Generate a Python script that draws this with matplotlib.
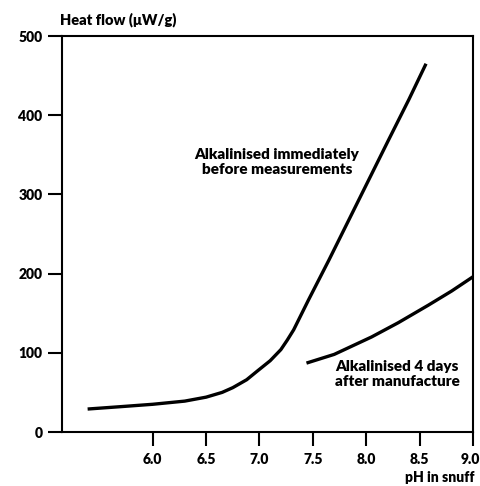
import matplotlib.pyplot as plt
from matplotlib.transforms import ScaledTranslation

plt.rcParams['font.family'] = ['Lato', 'DejaVu Sans']
plt.rcParams['font.weight'] = 'heavy'

ph_fresh = [5.39, 5.7, 6.0, 6.3, 6.5, 6.65, 6.75, 6.88, 6.98, 7.1, 7.2, 7.26, 7.32,
            7.46, 7.65, 7.93, 8.21, 8.4, 8.56]
heat_fresh = [29, 32, 35, 39, 44, 50, 56, 66, 77, 90, 104, 116, 129,
              167, 217, 293, 369, 420, 465]

# alkalinised 4 days after manufacture
ph_aged = [7.44, 7.7, 8.05, 8.3, 8.58, 8.8, 9.0]
heat_aged = [87, 98, 120, 138, 160, 178, 196]

x_ticks = [6.0, 6.5, 7.0, 7.5, 8.0, 8.5, 9.0]
y_ticks = [0, 100, 200, 300, 400, 500]

W, H = 481, 486
fig = plt.figure(figsize=(W / 100, H / 100), dpi=100)
ax = fig.add_axes([62 / W, 1 - 432 / H, (473 - 62) / W, (432 - 36) / H])

for xs, ys in [(ph_fresh, heat_fresh), (ph_aged, heat_aged)]:
    ax.plot(xs, ys, color='black', lw=2.4, solid_capstyle='butt',
            solid_joinstyle='round')

ax.set_xlim(5.15, 9.0)
ax.set_ylim(0, 500)
ax.set_xticks(x_ticks)
ax.set_xticklabels(['%.1f' % v for v in x_ticks])
ax.set_yticks(y_ticks)

for s in ax.spines.values():
    s.set_linewidth(1.5)
ax.tick_params(axis='both', direction='out', length=10, width=1.5, labelsize=10)
ax.tick_params(axis='x', pad=5)
ax.tick_params(axis='y', pad=4)

# last x label sits a little left so it stays inside the figure
last = ax.get_xticklabels()[-1]
last.set_transform(last.get_transform() + ScaledTranslation(-3 / 100, 0, fig.dpi_scale_trans))

fig.text(60 / W, 1 - 20 / H, 'Heat flow (\u03bcW/g)', fontsize=10.5, ha='left', va='center')
fig.text(475 / W, 1 - 477 / H, 'pH in snuff', fontsize=10, ha='right', va='center')
fig.text(277 / W, 1 - 162 / H, 'Alkalinised immediately\nbefore measurements',
         fontsize=11, ha='center', va='center', linespacing=1.2)
fig.text(397 / W, 1 - 374 / H, 'Alkalinised 4 days\nafter manufacture',
         fontsize=11, ha='center', va='center', linespacing=1.2)

fig.savefig('out.png', dpi=100)
